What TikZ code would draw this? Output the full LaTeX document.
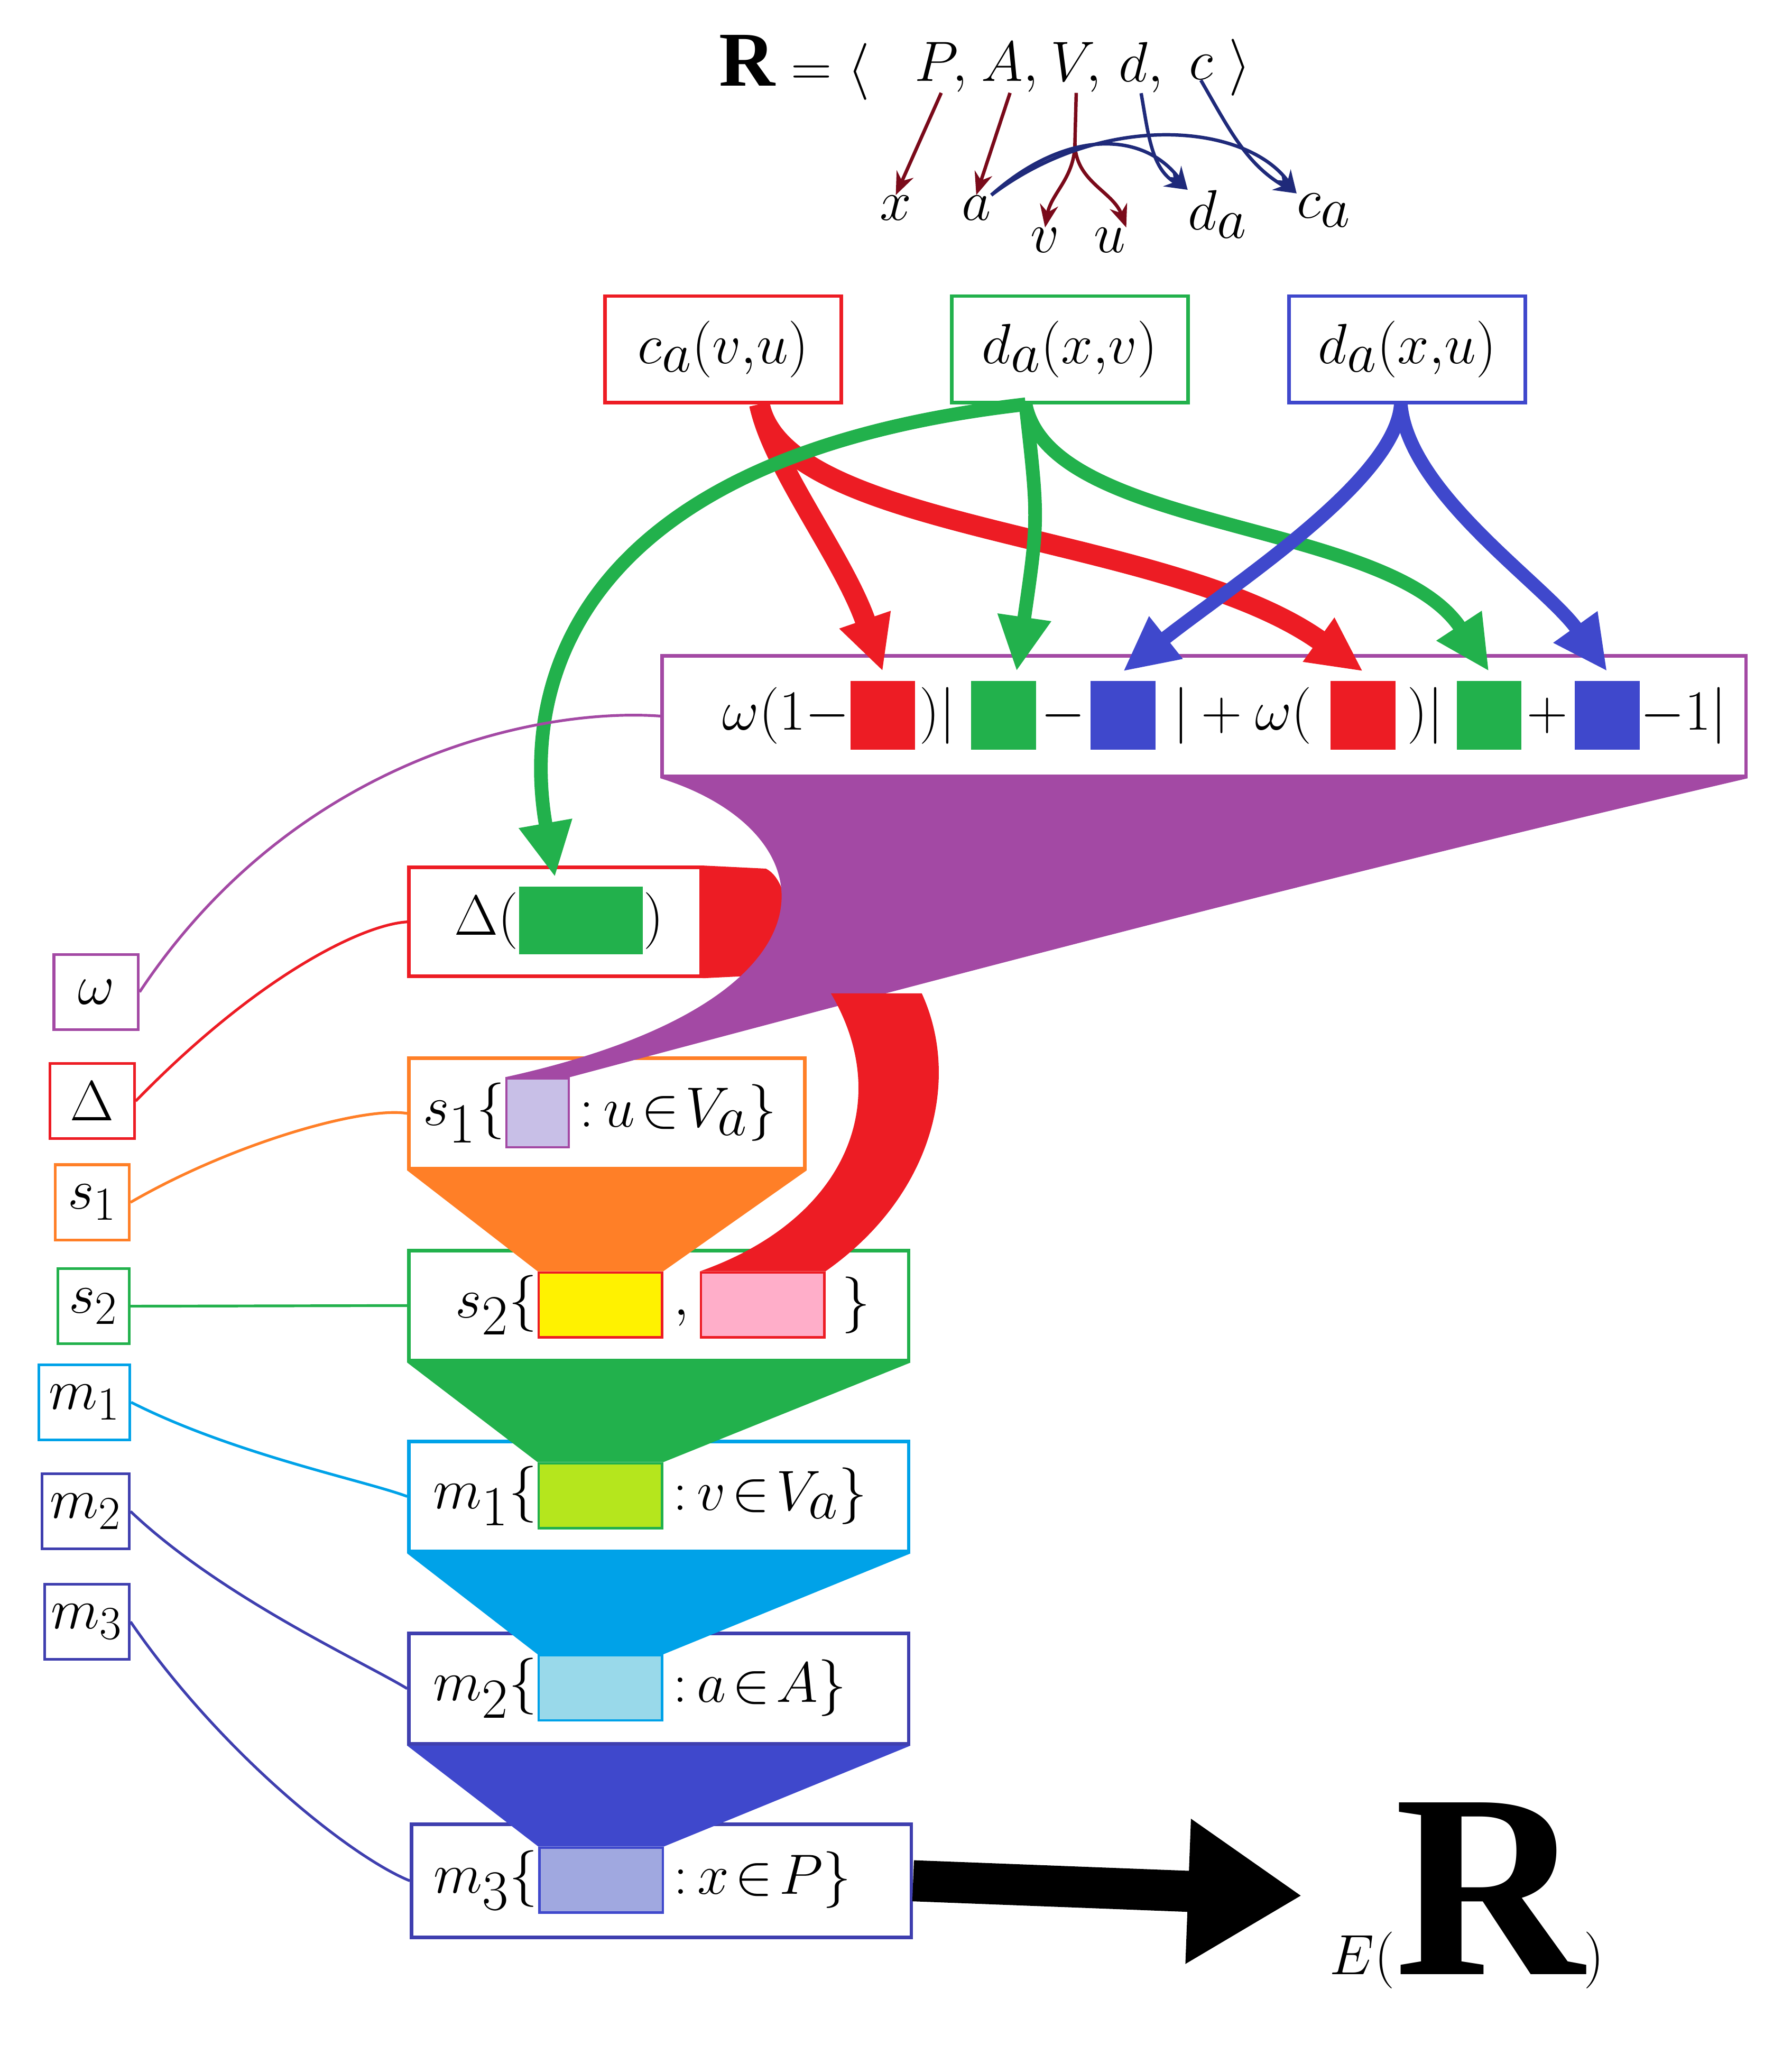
\documentclass[tikz,border=0pt]{standalone}
\usepackage{fontspec}
\setmainfont{Liberation Serif}
\usetikzlibrary{arrows.meta}
\definecolor{cred}{HTML}{ED1C24}
\definecolor{cgreen}{HTML}{22B14C}
\definecolor{cblue}{HTML}{3F48CC}
\definecolor{cpurple}{HTML}{A349A4}
\definecolor{corange}{HTML}{FF7F27}
\definecolor{ccyan}{HTML}{00A2E8}
\definecolor{cnavy}{HTML}{3F3FAF}
\definecolor{cyel}{HTML}{FFF200}
\definecolor{cpink}{HTML}{FFAEC9}
\definecolor{clime}{HTML}{B5E61D}
\definecolor{clblue}{HTML}{99D9EA}
\definecolor{clav}{HTML}{C8BFE7}
\definecolor{clav2}{HTML}{A0A8E0}
\definecolor{cdred}{HTML}{7A0A1A}
\definecolor{cdnavy}{HTML}{1F2A7A}
\begin{document}
\begin{tikzpicture}[x=0.02cm,y=-0.02cm,
    txt/.style={inner sep=0pt,font=\fontsize{34}{40}\selectfont},
    box/.style={draw,line width=1.6pt,inner sep=0pt,minimum height=1.7cm},
    sq/.style={inner sep=0pt,minimum width=1cm,minimum height=1.06cm},
    lg/.style={draw,line width=1.2pt,inner sep=0pt,minimum width=1.3cm,minimum height=1.16cm,font=\fontsize{32}{38}\selectfont},
    thin/.style={line width=1.5pt,-{Stealth[length=10pt,width=8pt]}},
    fat/.style={line width=#1,-{Triangle[length=24pt,width=22pt]}}]
    \useasboundingbox (0,0) rectangle (1380,1575);

    % title
    \node[txt] (tR) at (612,52) {$\mathbf{R}=\langle$};
    \node[txt] (tP) at (725,52) {$P,$};
    \node[txt] (tA) at (778,52) {$A,$};
    \node[txt] (tV) at (829,52) {$V,$};
    \node[txt] (td) at (879,52) {$d,$};
    \node[txt] (tc) at (925,52) {$c$};
    \node[txt] (tE) at (955,52) {$\rangle$};
    \node[txt] (x) at (690,160) {$x$};
    \node[txt] (a) at (752,160) {$a$};
    \node[txt] (v) at (805,185) {$v$};
    \node[txt] (u) at (855,185) {$u$};
    \node[txt] (da) at (938,165) {$d_a$};
    \node[txt] (cc) at (1020,162) {$c_a$};
    \coordinate (vs) at (828,110);
    \draw[thin,cdred] (tP.south) -- (x.north);
    \draw[thin,cdred] (tA.south) -- (a.north);
    \draw[line width=1.5pt,cdred] (tV.south) -- (vs);
    \draw[thin,cdred] (vs) to[out=-90,in=80] (v.north);
    \draw[thin,cdred] (vs) to[out=-90,in=110] (u.north east);
    \draw[thin,cdnavy] (td.south) to[out=-80,in=150] (da.north west);
    \draw[thin,cdnavy] (tc.south) to[out=-60,in=150] (cc.north west);
    \draw[thin,cdnavy] (a.north east) .. controls (820,100) and (880,100) .. (da.north west);
    \draw[thin,cdnavy] (a.north east) .. controls (850,85) and (960,95) .. (cc.north west);

    % top boxes
    \node[box,draw=cred,minimum width=3.64cm,minimum height=1.64cm,txt] (ca) at (557,269) {$c_a(v{,}u)$};
    \node[box,draw=cgreen,minimum width=3.64cm,minimum height=1.64cm,txt] (dxv) at (824,269) {$d_a(x{,}v)$};
    \node[box,draw=cblue,minimum width=3.64cm,minimum height=1.64cm,txt] (dxu) at (1084,269) {$d_a(x{,}u)$};

    % formula
    \node[box,draw=cpurple,minimum width=16.7cm,minimum height=1.86cm] (fm) at (927.5,551.5) {};
    \node[sq,fill=cred] (r1) at (680,551) {};
    \node[sq,fill=cgreen] (g1) at (773,551) {};
    \node[sq,fill=cblue] (b1) at (865,551) {};
    \node[sq,fill=cred] (r2) at (1050,551) {};
    \node[sq,fill=cgreen] (g2) at (1147,551) {};
    \node[sq,fill=cblue] (b2) at (1238,551) {};
    \node[txt,anchor=east] at (r1.west) {$\omega(1-$};
    \node[txt] at (722,551) {$)\big|$};
    \node[txt] at (819,551) {$-$};
    \node[txt] at (957,551) {$\big|+\omega($};
    \node[txt] at (1098,551) {$)\big|$};
    \node[txt] at (1192,551) {$+$};
    \node[txt,anchor=west] at (b2.east) {$-1\big|$};

    % lower boxes
    \node[box,draw=cred,minimum width=4.5cm,minimum height=1.68cm] (dl) at (427.5,710) {};
    \node[sq,fill=cgreen,minimum width=1.9cm,minimum height=1.04cm] (dg) at (447.5,709) {};
    \node[txt,anchor=east] at (dg.west) {$\Delta($};
    \node[txt,anchor=west] at (dg.east) {$)$};
    \fill[cred] (dl.north east) -- (590,669) .. controls (612,680) and (612,740) .. (590,751) -- (dl.south east) -- cycle;

    \node[box,draw=corange,minimum width=6.1cm] (s1) at (467.5,857.5) {};
    \node[sq,fill=clav,draw=cpurple,line width=1pt,minimum width=0.96cm] (s1q) at (414,857) {};
    \node[txt,anchor=east] at (s1q.west) {$s_1\{$};
    \node[txt,anchor=west] at (s1q.east) {$\,{:}\,u\!\in\! V_a\}$};

    \node[box,draw=cgreen,minimum width=7.7cm] (s2) at (507.5,1005.5) {};
    \node[sq,fill=cyel,draw=cred,line width=1pt,minimum width=1.9cm,minimum height=1cm] (yel) at (462.5,1005) {};
    \node[sq,fill=cpink,draw=cred,line width=1pt,minimum width=1.9cm,minimum height=1cm] (pk) at (587.5,1005) {};
    \node[txt,anchor=east] at (yel.west) {$s_2\{$};
    \node[txt] at (525,1015) {$,$};
    \node[txt,anchor=west] at (pk.east) {$\;\}$};

    \node[box,draw=ccyan,minimum width=7.7cm] (m1) at (507.5,1152.5) {};
    \node[sq,fill=clime,draw=cgreen,line width=1pt,minimum width=1.9cm,minimum height=1cm] (lm) at (462.5,1152) {};
    \node[txt,anchor=east] at (lm.west) {$m_1\{$};
    \node[txt,anchor=west] at (lm.east) {$\,{:}\,v\!\in\! V_a\}$};

    \node[box,draw=cnavy,minimum width=7.7cm] (m2) at (507.5,1300.5) {};
    \node[sq,fill=clblue,draw=ccyan,line width=1pt,minimum width=1.9cm,minimum height=1cm] (lb) at (462.5,1300) {};
    \node[txt,anchor=east] at (lb.west) {$m_2\{$};
    \node[txt,anchor=west] at (lb.east) {$\,{:}\,a\!\in\! A\}$};

    \node[box,draw=cnavy,minimum width=7.7cm,minimum height=1.74cm] (m3) at (509.5,1448.5) {};
    \node[sq,fill=clav2,draw=cblue,line width=1pt,minimum width=1.9cm,minimum height=1cm] (lv) at (463,1448) {};
    \node[txt,anchor=east] at (lv.west) {$m_3\{$};
    \node[txt,anchor=west] at (lv.east) {$\,{:}\,x\!\in\! P\}$};

    % funnels
    \fill[cpurple] (fm.south west) .. controls (640,640) and (660,770) .. (s1q.north west) -- (s1q.north east) .. controls (700,760) and (1000,680) .. (fm.south east) -- cycle;
    \coordinate (rb1) at (640,765);
    \coordinate (rb2) at (710,765);
    \fill[cred] (rb1) .. controls (690,850) and (650,940) .. (pk.north west) -- (pk.north east) .. controls (720,920) and (740,830) .. (rb2) -- cycle;
    \fill[corange] (s1.south west) -- (s1.south east) -- (yel.north east) -- (yel.north west) -- cycle;
    \fill[cgreen] (s2.south west) -- (s2.south east) -- (lm.north east) -- (lm.north west) -- cycle;
    \fill[ccyan] (m1.south west) -- (m1.south east) -- (lb.north east) -- (lb.north west) -- cycle;
    \fill[cblue] (m2.south west) -- (m2.south east) -- (lv.north east) -- (lv.north west) -- cycle;

    % flow arrows
    \draw[fat=9pt,cred] ([xshift=0.56cm]ca.south) .. controls (595,360) and (650,430) .. ([yshift=4pt]r1.north);
    \draw[fat=9pt,cred] ([xshift=0.56cm]ca.south) .. controls (605,410) and (900,410) .. ([yshift=4pt]r2.north);
    \draw[fat=6pt,cgreen] ([xshift=-0.68cm]dxv.south) .. controls (450,350) and (400,520) .. ([xshift=-0.4cm,yshift=4pt]dg.north);
    \draw[fat=6pt,cgreen] ([xshift=-0.68cm]dxv.south) .. controls (800,400) .. ([xshift=0.2cm,yshift=4pt]g1.north);
    \draw[fat=6pt,cgreen] ([xshift=-0.68cm]dxv.south) .. controls (810,410) and (1070,400) .. ([yshift=4pt]g2.north);
    \draw[fat=6pt,cblue] ([xshift=-0.1cm]dxu.south) .. controls (1075,370) and (950,450) .. ([yshift=4pt]b1.north);
    \draw[fat=6pt,cblue] ([xshift=-0.1cm]dxu.south) .. controls (1085,380) and (1190,450) .. ([yshift=4pt]b2.north);

    % result
    \node[inner sep=0pt,font=\fontsize{115}{120}\selectfont] (res) at (1130,1460) {$E(\mathbf{R})$};
    \draw[line width=18pt,-{Triangle[length=50pt,width=60pt]}] (m3.east) -- ([xshift=-12pt]res.west);

    % legend
    \node[lg,draw=cpurple] (lw) at (74,764) {$\omega$};
    \node[lg,draw=cred] (ld) at (71,848) {$\Delta$};
    \node[lg,draw=corange,minimum width=1.14cm] (ls1) at (71,926) {$s_1$};
    \node[lg,draw=cgreen,minimum width=1.1cm] (ls2) at (72,1006) {$s_2$};
    \node[lg,draw=ccyan,minimum width=1.4cm] (lm1) at (65,1080) {$m_1$};
    \node[lg,draw=cnavy,minimum width=1.34cm] (lm2) at (66,1164) {$m_2$};
    \node[lg,draw=cnavy,minimum width=1.3cm] (lm3) at (67,1249) {$m_3$};
    \draw[cpurple,line width=1.2pt] (lw.east) .. controls (230,580) and (420,545) .. (fm.west);
    \draw[cred,line width=1.2pt] (ld.east) .. controls (200,750) and (280,712) .. (dl.west);
    \draw[corange,line width=1.2pt] (ls1.east) .. controls (180,880) and (280,852) .. (s1.west);
    \draw[cgreen,line width=1.2pt] (ls2.east) -- (s2.west);
    \draw[ccyan,line width=1.2pt] (lm1.east) .. controls (180,1120) and (280,1140) .. (m1.west);
    \draw[cnavy,line width=1.2pt] (lm2.east) .. controls (170,1230) and (280,1280) .. (m2.west);
    \draw[cnavy,line width=1.2pt] (lm3.east) .. controls (170,1350) and (270,1430) .. (m3.west);
\end{tikzpicture}
\end{document}
